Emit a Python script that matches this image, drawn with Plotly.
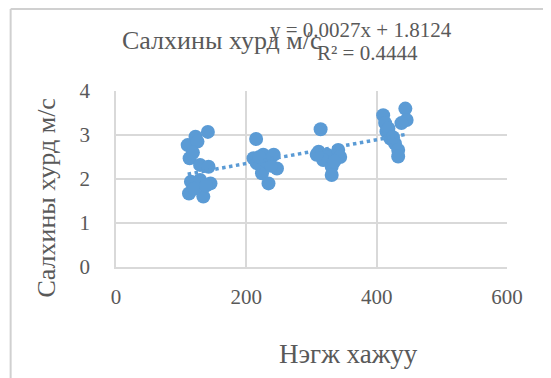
import plotly.graph_objects as go

# Data
x_vals = [110, 113, 122, 141, 129, 142, 115, 129, 145, 112, 134, 125, 118, 120, 138,
          215, 211, 226, 242, 247, 224, 234, 216, 231, 238, 220,
          314, 311, 324, 341, 344, 318, 331, 331, 335, 308,
          444, 446, 438, 410, 413, 415, 421, 428, 433, 433, 418, 425]
y_vals = [2.77, 2.47, 2.96, 3.07, 2.32, 2.28, 1.94, 1.98, 1.90, 1.67, 1.60, 2.85, 2.60, 1.78, 1.85,
          2.91, 2.47, 2.55, 2.55, 2.24, 2.13, 1.90, 2.36, 2.40, 2.30, 2.50,
          3.13, 2.62, 2.55, 2.66, 2.50, 2.43, 2.28, 2.09, 2.40, 2.55,
          3.60, 3.34, 3.27, 3.45, 3.27, 3.08, 2.92, 2.81, 2.66, 2.51, 3.15, 2.95]
slope = 0.0027
intercept = 1.8124
r2 = 0.4444
x_ticks = [0, 200, 400, 600]
y_ticks = [0, 1, 2, 3, 4]

title_text = "Салхины хурд м/с"
x_title = "Нэгж хажуу"
y_title = "Салхины хурд м/с"
eq_text = "y = 0.0027x + 1.8124"
r2_text = "R² = 0.4444"

BLUE = "#5B9BD5"
GRAY = "#595959"
GRID = "#D9D9D9"
FONT = "Liberation Serif"

OFF = 8  # page body margin
W, H = 551 - OFF, 378 - OFF
L, R, T, B = 115.5 - OFF, 507 - OFF, 91 - OFF, 267 - OFF


def px(xp):
    return (xp - OFF - L) / (R - L)


def py(yp):
    return (B - (yp - OFF)) / (B - T)


tx = [min(x_vals), max(x_vals)]
ty = [slope * v + intercept for v in tx]

fig = go.Figure()
fig.add_trace(go.Scatter(x=x_vals, y=y_vals, mode="markers",
                         marker=dict(color=BLUE, size=14, line=dict(width=0)),
                         showlegend=False))
fig.add_trace(go.Scatter(x=tx, y=ty, mode="lines",
                         line=dict(color=BLUE, width=3.5, dash="dot"),
                         showlegend=False))

fig.update_layout(
    width=W, height=H,
    margin=dict(l=L, r=W - R, t=T, b=H - B, pad=0),
    paper_bgcolor="white", plot_bgcolor="white",
    font=dict(family=FONT, color=GRAY),
    xaxis=dict(range=[0, 600], tickvals=x_ticks, showgrid=True, gridcolor=GRID, gridwidth=1.5,
               zeroline=False, showline=True, linecolor=GRID, linewidth=1.5,
               ticks="", tickfont=dict(size=21, color=GRAY, family=FONT),
               ticklabelstandoff=10),
    yaxis=dict(range=[0, 4], tickvals=y_ticks, showgrid=True, gridcolor=GRID, gridwidth=1.5,
               zeroline=False, showline=True, linecolor=GRID, linewidth=1.5,
               ticks="", tickfont=dict(size=21, color=GRAY, family=FONT),
               ticklabelstandoff=20),
)

ann = [
    dict(text=title_text, x=px(222), y=py(41), size=26),
    dict(text=eq_text, x=px(361), y=py(30), size=21),
    dict(text=r2_text, x=px(367), y=py(53), size=21),
    dict(text=x_title, x=px(348), y=py(354), size=27),
]
for a in ann:
    fig.add_annotation(text=a["text"], x=a["x"], y=a["y"], xref="paper", yref="paper",
                       showarrow=False, font=dict(size=a["size"], color=GRAY, family=FONT),
                       xanchor="center", yanchor="middle")
fig.add_annotation(text=y_title, x=px(45), y=py(198), xref="paper", yref="paper",
                   showarrow=False, textangle=-90,
                   font=dict(size=26, color=GRAY, family=FONT),
                   xanchor="center", yanchor="middle")

# outer chart frame (left and top edges visible)
fig.add_shape(type="line", xref="paper", yref="paper", x0=px(10), x1=px(10), y0=py(9), y1=py(390),
              line=dict(color="#D0D0D0", width=2))
fig.add_shape(type="line", xref="paper", yref="paper", x0=px(10), x1=px(560), y0=py(9), y1=py(9),
              line=dict(color="#D0D0D0", width=2))

fig.write_html("out.html")
